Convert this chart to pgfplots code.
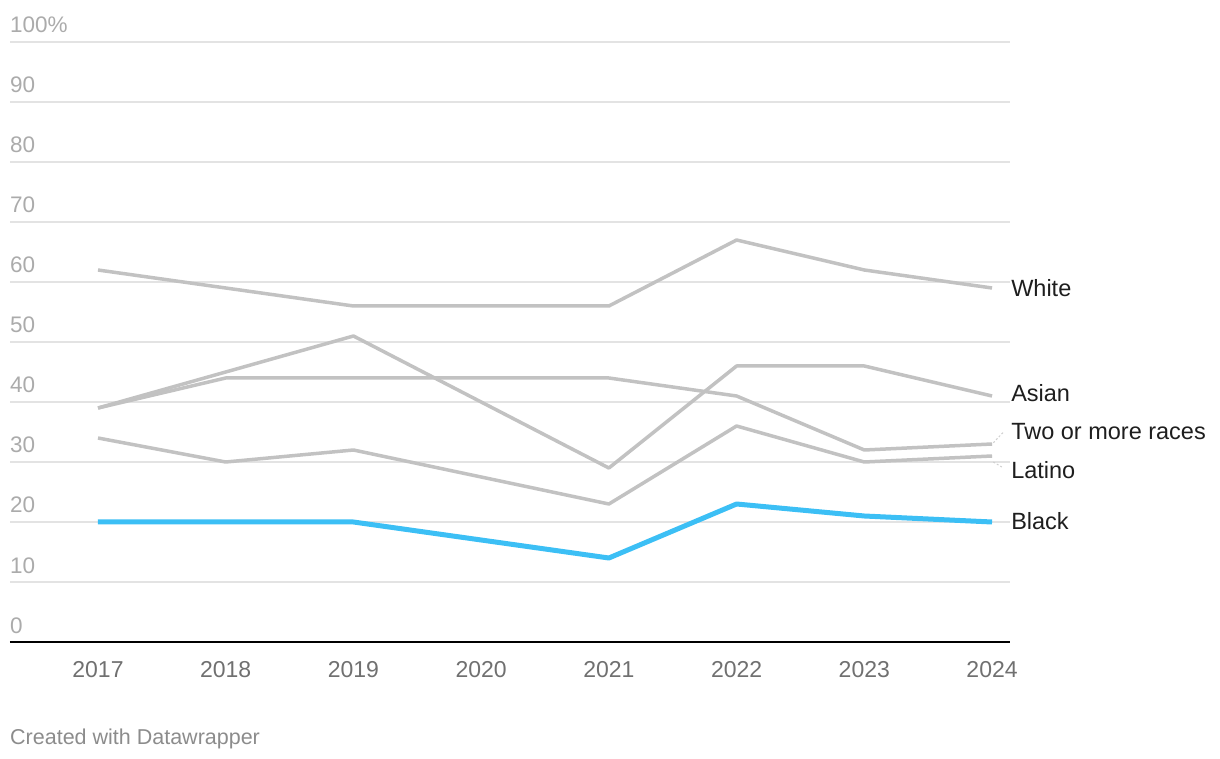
\documentclass[border=0pt]{standalone}
\usepackage{pgfplots}
\pgfplotsset{compat=1.18}
\usepackage{fontspec}
\setmainfont{Liberation Sans}
\definecolor{linegray}{HTML}{C2C2C2}
\definecolor{blk}{HTML}{3CBFF5}
\definecolor{gridc}{HTML}{E3E3E3}
\definecolor{ytc}{HTML}{ABABAB}
\definecolor{xtc}{HTML}{707070}
\definecolor{credc}{HTML}{8C8C8C}
\definecolor{labc}{HTML}{1E1E1E}
\begin{document}
\begin{tikzpicture}[x=1pt,y=1pt]
\useasboundingbox (0,0) rectangle (1220,758);
\begin{axis}[
  at={(10pt,116pt)}, anchor=south west,
  scale only axis, width=1000pt, height=600pt,
  xmin=2016.311, xmax=2024.141, ymin=0, ymax=100,
  axis line style={draw=none},
  xtick={2017,2018,...,2024},
  ytick={10,20,...,100},
  yticklabels={},
  ymajorgrids, grid style={draw=gridc, line width=1.5pt},
  major tick length=0pt,
  /pgf/number format/1000 sep={},
  /pgf/number format/assume math mode=true,
  xticklabel style={anchor=base, yshift=-35pt, inner sep=0pt, font=\fontsize{23}{27}\selectfont, text=xtc},
  clip=false,
]
% gray series
\addplot[linegray, line width=3.5pt, line join=round] coordinates {(2017,62)(2018,59)(2019,56)(2020,56)(2021,56)(2022,67)(2023,62)(2024,59)};
\addplot[linegray, line width=3.5pt, line join=round] coordinates {(2017,39)(2018,45)(2019,51)(2020,40)(2021,29)(2022,46)(2023,46)(2024,41)};
\addplot[linegray, line width=3.5pt, line join=round] coordinates {(2017,39)(2018,44)(2019,44)(2020,44)(2021,44)(2022,41)(2023,32)(2024,33)};
\addplot[linegray, line width=3.5pt, line join=round] coordinates {(2017,34)(2018,30)(2019,32)(2020,27.5)(2021,23)(2022,36)(2023,30)(2024,31)};
% Black
\addplot[blk, line width=5pt, line join=round] coordinates {(2017,20)(2018,20)(2019,20)(2020,17)(2021,14)(2022,23)(2023,21)(2024,20)};
% x axis line
\draw[black, line width=2pt] (axis cs:2016.311,0) -- (axis cs:2024.141,0);
% y tick labels
\pgfplotsinvokeforeach{0,10,20,30,40,50,60,70,80,90}{
  \node[anchor=base west, inner sep=0pt, text=ytc, font=\fontsize{22.5}{27}\selectfont] at ([yshift=9pt]axis cs:2016.311,#1) {#1};
}
\node[anchor=base west, inner sep=0pt, text=ytc, font=\fontsize{22.5}{27}\selectfont] at ([yshift=9pt]axis cs:2016.311,100) {100\%};
% connectors
\draw[gridc!80!gray, line width=1pt, dash pattern=on 2pt off 2pt] (axis cs:2024.01,33.2) -- (axis cs:2024.09,35);
\draw[gridc!80!gray, line width=1pt, dash pattern=on 2pt off 2pt] (axis cs:2024.01,30) -- (axis cs:2024.09,29);
% labels
\begin{scope}[every node/.style={anchor=west, inner sep=0pt, text=labc, font=\fontsize{23.5}{28}\selectfont}]
\node at ([xshift=19pt]axis cs:2024,59) {White};
\node at ([xshift=19pt]axis cs:2024,41.5) {Asian};
\node at ([xshift=19pt]axis cs:2024,35) {Two or more races};
\node at ([xshift=19pt]axis cs:2024,28.7) {Latino};
\node at ([xshift=19pt]axis cs:2024,20.2) {Black};
\end{scope}
\end{axis}
\node[anchor=base west, inner sep=0pt, text=credc, font=\fontsize{21.5}{26}\selectfont] at (10,14) {Created with Datawrapper};
\end{tikzpicture}
\end{document}
